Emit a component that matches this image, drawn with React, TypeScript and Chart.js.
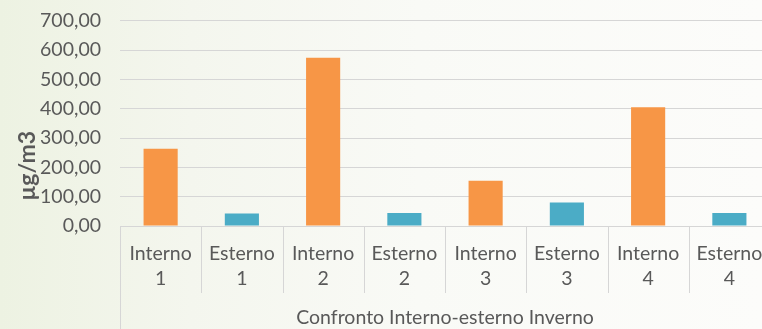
import React, { useEffect, useRef } from "react";
import { Chart, registerables } from "chart.js";

Chart.register(...registerables);

// Sampling points: indoor / outdoor pairs for the winter campaign
const categories: string[][] = [
  ["Interno", "1"],
  ["Esterno", "1"],
  ["Interno", "2"],
  ["Esterno", "2"],
  ["Interno", "3"],
  ["Esterno", "3"],
  ["Interno", "4"],
  ["Esterno", "4"],
];

// Concentrations in µg/m3
const values: number[] = [263, 43, 574, 44, 154, 80, 405, 44];

const groupTitle = "Confronto Interno-esterno Inverno";
const yTitle = "µg/m3";

const ORANGE = "#F79646";
const BLUE = "#4BACC6";
const TEXT = "#595959";
const GRID = "#d6d6d6";
const FONT = "Lato, 'Open Sans', sans-serif";
const SIZE = 19.5;

const barColors = categories.map((c) => (c[0] === "Interno" ? ORANGE : BLUE));

// Category separators below the axis and the y axis title
const axisDecor = {
  id: "axisDecor",
  afterDraw(chart: any) {
    const { ctx, chartArea } = chart;
    const x = chart.scales.x;
    const half = (x.getPixelForValue(1) - x.getPixelForValue(0)) / 2;
    ctx.save();
    ctx.strokeStyle = GRID;
    ctx.lineWidth = 1;
    for (let i = 0; i <= categories.length; i++) {
      const px = Math.round(x.getPixelForValue(i) - half) + 0.5;
      const bottom = i === 0 ? chart.height : chartArea.bottom + 67;
      ctx.beginPath();
      ctx.moveTo(px, chartArea.bottom);
      ctx.lineTo(px, bottom);
      ctx.stroke();
    }
    // y axis title, centred on the lower part of the value axis
    const y = chart.scales.y;
    ctx.fillStyle = TEXT;
    ctx.font = `bold 23px ${FONT}`;
    ctx.textAlign = "center";
    ctx.textBaseline = "middle";
    ctx.translate(28, y.getPixelForValue(205));
    ctx.rotate(-Math.PI / 2);
    ctx.fillText(yTitle, 0, 0);
    ctx.restore();
  },
};

export default function App() {
  const ref = useRef<HTMLCanvasElement | null>(null);

  useEffect(() => {
    if (!ref.current) return;
    const chart = new Chart(ref.current, {
      type: "bar",
      data: {
        labels: categories,
        datasets: [
          {
            data: values,
            backgroundColor: barColors,
            borderWidth: 0,
            barPercentage: 1,
            categoryPercentage: 0.42,
          },
        ],
      },
      options: {
        animation: false,
        responsive: false,
        maintainAspectRatio: false,
        layout: { padding: { top: 9, right: 10, left: 0, bottom: 0 } },
        plugins: {
          legend: { display: false },
          tooltip: { enabled: false },
        },
        scales: {
          x: {
            offset: true,
            grid: { display: false, drawTicks: false },
            border: { display: false },
            ticks: {
              color: TEXT,
              font: { family: FONT, size: SIZE, lineHeight: 1.28 },
              padding: 15,
              maxRotation: 0,
              autoSkip: false,
            },
            title: {
              display: true,
              text: groupTitle,
              color: TEXT,
              font: { family: FONT, size: SIZE },
              padding: { top: 0, bottom: 0 },
            },
            afterFit(scale: any) {
              scale.height = 103;
            },
          },
          y: {
            min: 0,
            max: 700,
            ticks: {
              stepSize: 100,
              color: TEXT,
              font: { family: FONT, size: SIZE },
              padding: 19,
              callback: (v: any) =>
                Number(v).toFixed(2).replace(".", ","),
            },
            grid: { color: GRID, lineWidth: 1, drawTicks: false },
            border: { display: false },
            afterFit(scale: any) {
              scale.width = 120;
            },
          },
        },
      },
      plugins: [axisDecor],
    });
    return () => chart.destroy();
  }, []);

  return (
    <div
      style={{
        position: "fixed",
        left: 0,
        top: 0,
        width: 762,
        height: 329,
        overflow: "hidden",
        background:
          "linear-gradient(to right, #edf2e2 0%, #f4f6ee 25%, #f9faf6 55%, #fcfcfa 100%)",
      }}
    >
      <canvas
        ref={ref}
        width={780}
        height={339}
        style={{ position: "absolute", left: 0, top: -10, width: 780, height: 339 }}
      />
    </div>
  );
}
